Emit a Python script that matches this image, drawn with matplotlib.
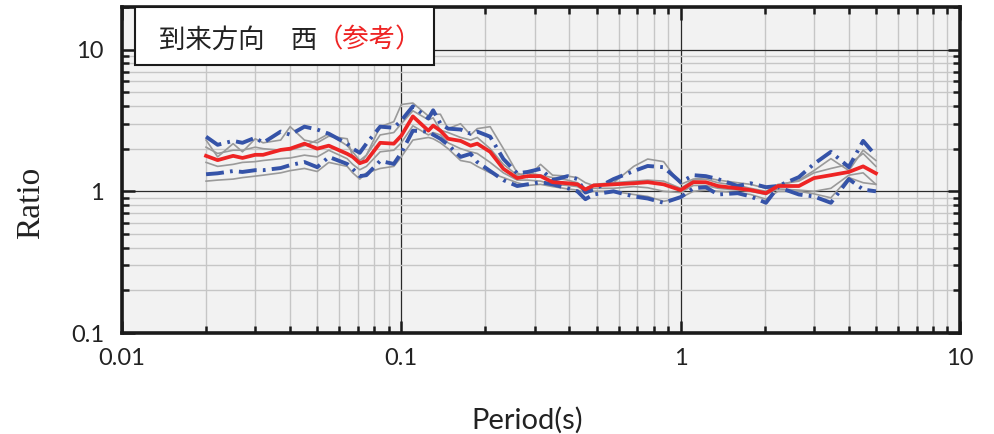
import matplotlib.pyplot as plt
from matplotlib.patches import Rectangle
from matplotlib.ticker import FixedLocator, FixedFormatter, LogLocator, NullFormatter

# periods (s) shared by all curves
period = [0.020, 0.022, 0.025, 0.027, 0.030, 0.032, 0.037, 0.040, 0.045, 0.050,
          0.055, 0.064, 0.067, 0.071, 0.075, 0.084, 0.094, 0.100, 0.110, 0.125,
          0.130, 0.138, 0.147, 0.163, 0.177, 0.187, 0.208, 0.232, 0.260, 0.283,
          0.315, 0.348, 0.394, 0.427, 0.456, 0.488, 0.575, 0.679, 0.762, 0.869,
          1.00, 1.11, 1.23, 1.36, 1.60, 1.78, 2.02, 2.23, 2.65, 3.00,
          3.45, 4.00, 4.50, 5.00]

# mean ratio (red)
ratio_mean = [1.78, 1.66, 1.78, 1.72, 1.81, 1.81, 1.96, 2.00, 2.17, 2.00,
              2.10, 1.84, 1.75, 1.58, 1.64, 2.20, 2.17, 2.47, 3.38, 2.68,
              2.91, 2.68, 2.35, 2.27, 2.10, 2.17, 1.90, 1.44, 1.24, 1.28,
              1.28, 1.16, 1.14, 1.12, 1.03, 1.10, 1.12, 1.14, 1.16, 1.12,
              1.02, 1.16, 1.16, 1.09, 1.05, 1.02, 0.97, 1.09, 1.09, 1.24,
              1.30, 1.37, 1.50, 1.34]

# upper / lower band (blue dash-dot)
ratio_upper = [2.43, 2.13, 2.27, 2.20, 2.39, 2.20, 2.64, 2.51, 2.86, 2.73,
               2.55, 2.17, 2.00, 1.87, 2.17, 2.86, 2.81, 3.16, 3.98, 3.27,
               3.73, 3.01, 2.77, 2.73, 2.55, 2.64, 2.43, 1.69, 1.34, 1.37,
               1.44, 1.20, 1.28, 1.22, 0.98, 1.03, 1.22, 1.39, 1.51, 1.48,
               1.16, 1.30, 1.28, 1.22, 1.09, 1.14, 1.07, 1.09, 1.26, 1.56,
               1.90, 1.48, 2.27, 1.78]
ratio_lower = [1.32, 1.34, 1.39, 1.37, 1.41, 1.41, 1.46, 1.53, 1.61, 1.48,
               1.75, 1.56, 1.44, 1.28, 1.30, 1.64, 1.56, 1.87, 2.68, 2.64,
               2.51, 2.35, 2.13, 1.75, 1.84, 1.61, 1.39, 1.20, 1.09, 1.12,
               1.16, 1.12, 1.05, 1.00, 0.88, 0.95, 1.00, 0.92, 0.89, 0.83,
               0.91, 1.05, 1.07, 0.95, 0.97, 0.92, 0.83, 1.07, 0.95, 0.92,
               0.83, 1.22, 1.03, 1.00]

# individual records (gray)
ratio_rec1 = [2.30, 1.75, 2.17, 1.90, 2.35, 2.20, 2.30, 2.86, 2.30, 2.20,
              2.45, 2.35, 1.75, 1.55, 1.80, 2.86, 3.10, 4.10, 4.20, 3.40,
              3.50, 3.50, 2.77, 3.00, 2.50, 2.77, 2.86, 2.00, 1.35, 1.25,
              1.55, 1.30, 1.28, 1.25, 1.15, 1.10, 1.15, 1.50, 1.69, 1.62,
              1.12, 1.22, 1.25, 1.20, 1.15, 1.12, 1.05, 1.10, 1.20, 1.40,
              1.70, 1.40, 1.95, 1.65]
ratio_rec2 = [2.05, 1.85, 1.95, 1.95, 2.05, 2.00, 1.95, 1.95, 2.10, 2.30,
              2.55, 2.10, 1.90, 1.65, 1.80, 2.50, 2.60, 3.00, 3.70, 3.20,
              3.30, 2.70, 2.60, 2.40, 2.30, 2.40, 2.00, 1.55, 1.30, 1.35,
              1.30, 1.25, 1.20, 1.15, 1.05, 1.12, 1.15, 1.18, 1.20, 1.18,
              1.05, 1.20, 1.22, 1.15, 1.10, 1.05, 1.00, 1.12, 1.18, 1.35,
              1.45, 1.55, 1.85, 1.50]
ratio_rec3 = [1.60, 1.50, 1.55, 1.60, 1.62, 1.65, 1.70, 1.72, 1.80, 1.75,
              1.95, 1.70, 1.55, 1.42, 1.50, 1.90, 1.95, 2.20, 2.90, 2.50,
              2.60, 2.50, 2.20, 2.00, 1.90, 1.85, 1.60, 1.35, 1.20, 1.20,
              1.18, 1.12, 1.10, 1.08, 1.00, 1.05, 1.05, 1.08, 1.06, 1.00,
              0.98, 1.10, 1.10, 1.05, 1.02, 1.00, 0.95, 1.04, 1.02, 1.00,
              1.05, 1.30, 1.35, 1.12]
ratio_rec4 = [1.18, 1.20, 1.22, 1.25, 1.28, 1.30, 1.35, 1.40, 1.45, 1.38,
              1.60, 1.50, 1.35, 1.22, 1.35, 1.45, 1.50, 1.75, 2.30, 2.40,
              2.35, 2.20, 2.00, 1.65, 1.60, 1.50, 1.35, 1.25, 1.15, 1.10,
              1.12, 1.08, 1.04, 1.02, 0.98, 1.00, 1.00, 0.95, 0.92, 0.85,
              0.90, 1.00, 1.02, 1.00, 0.98, 0.95, 0.88, 1.00, 1.00, 0.96,
              0.90, 1.25, 1.15, 1.12]

xticks = [0.01, 0.1, 1, 10]
xtick_labels = ['0.01', '0.1', '1', '10']
yticks = [0.1, 1, 10]
ytick_labels = ['0.1', '1', '10']

fig = plt.figure(figsize=(9.94, 4.34), dpi=100)
ax = fig.add_axes([0.1227, 0.2327, 0.8431, 0.7512])
ax.set_facecolor('#f2f2f2')

ax.set_xscale('log')
ax.set_yscale('log')
ax.set_xlim(0.01, 10)
ax.set_ylim(0.1, 20)

gray = '#9a9a9a'
blue = '#3553a8'
red = '#ee2424'
for rec in (ratio_rec1, ratio_rec2, ratio_rec3, ratio_rec4):
    ax.plot(period, rec, color=gray, lw=1.2, zorder=2)
for band in (ratio_upper, ratio_lower):
    ax.plot(period, band, color=blue, lw=2.8, ls=(0, (4.6, 1.6, 0.7, 1.6)), zorder=3)
ax.plot(period, ratio_mean, color=red, lw=2.7, zorder=4)

# ticks / grid
ax.xaxis.set_major_locator(FixedLocator(xticks))
ax.xaxis.set_major_formatter(FixedFormatter(xtick_labels))
ax.yaxis.set_major_locator(FixedLocator(yticks))
ax.yaxis.set_major_formatter(FixedFormatter(ytick_labels))
ax.xaxis.set_minor_locator(LogLocator(base=10, subs=range(2, 10)))
ax.yaxis.set_minor_locator(LogLocator(base=10, subs=range(2, 10)))
ax.xaxis.set_minor_formatter(NullFormatter())
ax.yaxis.set_minor_formatter(NullFormatter())

ax.grid(which='minor', color='#c6c6c6', lw=1.0)
ax.grid(which='major', color='#2a2a2a', lw=0.9)
ax.set_axisbelow(True)

ax.tick_params(which='both', direction='in', top=True, right=True,
               width=1.8, color='#1a1a1a')
ax.tick_params(which='major', length=9)
ax.tick_params(which='minor', length=5)
ax.tick_params(axis='both', which='major', labelsize=17, labelcolor='#222222')
ax.tick_params(axis='y', pad=13)
ax.tick_params(axis='x', pad=11)
for lab in ax.get_xticklabels() + ax.get_yticklabels():
    lab.set_family('Lato')
for s in ax.spines.values():
    s.set_linewidth(2.6)
    s.set_color('#1a1a1a')

ax.set_xlabel('Period(s)', fontsize=21, family='Lato', color='#222222')
ax.xaxis.set_label_coords(0.483, -0.225)
ax.set_ylabel('Ratio', fontsize=24, family='Liberation Serif', color='#222222')
ax.yaxis.set_label_coords(-0.09, 0.40)

# title box
ax.add_patch(Rectangle((0.0155, 0.822), 0.357, 0.178, transform=ax.transAxes,
                       facecolor='white', edgecolor='#1a1a1a', lw=1.5, zorder=5,
                       clip_on=False))
t1 = ax.text(0.044, 0.899, '到来方向\u3000西', transform=ax.transAxes,
             ha='left', va='center', fontsize=19, color='#222222',
             family=['Noto Sans CJK JP', 'DejaVu Sans'], zorder=6)
ax.annotate('（参考）', xy=(1, 0.5), xycoords=t1, ha='left', va='center',
            fontsize=19, color=red, family=['Noto Sans CJK JP', 'DejaVu Sans'],
            zorder=6)

fig.savefig('out.png', dpi=100)
